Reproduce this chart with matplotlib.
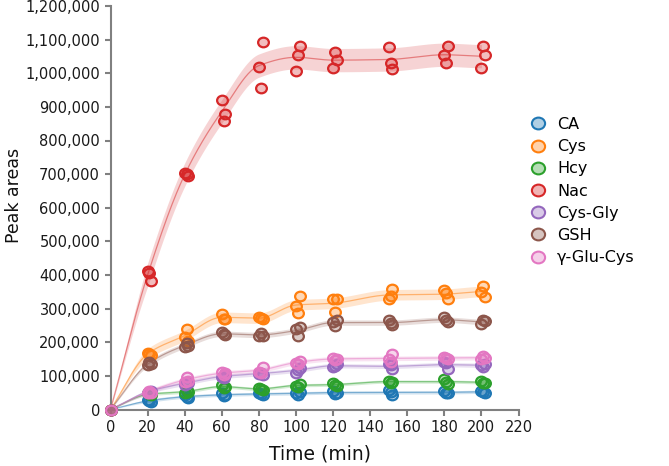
import numpy as np
import matplotlib
matplotlib.use("Agg")
import matplotlib.pyplot as plt
from matplotlib.ticker import FuncFormatter, MultipleLocator
from matplotlib.lines import Line2D
from matplotlib.colors import to_rgba
from matplotlib.path import Path

plt.rcParams['font.family'] = ['DejaVu Sans']

# ---------------- data (peak areas in thousands) ----------------
series_names = ["CA", "Cys", "Hcy", "Nac", "Cys-Gly", "GSH", "γ-Glu-Cys"]
series_colors = ["#1f77b4", "#ff7f0e", "#2ca02c", "#d62728", "#9467bd", "#8c564b", "#e377c2"]

# sampling times of each replicate (min); nominal group time listed alongside
sample_times = [0,
                20, 21, 22, 40, 41, 42, 60, 61, 62, 80, 81, 82,
                100, 101, 102, 120, 121, 122, 150, 151, 152,
                180, 181, 182, 200, 201, 202]
nominal_times = [0,
                 20, 20, 20, 40, 40, 40, 60, 60, 60, 80, 80, 80,
                 100, 100, 100, 120, 120, 120, 150, 150, 150,
                 180, 180, 180, 200, 200, 200]

ca_k = [0, 28, 25, 23, 43, 38, 33, 48, 40, 43, 50, 46, 43,
        48, 43, 53, 55, 46, 50, 58, 51, 43, 55, 50, 48, 55, 53, 50]
cys_k = [0, 168, 165, 163, 215, 239, 205, 284, 270, 268, 275, 272, 268,
         308, 287, 337, 330, 290, 328, 328, 337, 357, 356, 345, 328, 349, 368, 336]
hcy_k = [0, 48, 45, 42, 48, 58, 53, 73, 63, 68, 65, 61, 58,
         71, 68, 76, 78, 73, 71, 86, 80, 83, 90, 83, 76, 85, 80, 78]
nac_k = [0, 413, 405, 382, 703, 699, 693, 921, 858, 880, 1019, 955, 1094,
         1007, 1054, 1081, 1015, 1063, 1039, 1079, 1031, 1013, 1053, 1031, 1081, 1017, 1081, 1054]
cysgly_k = [0, 50, 53, 55, 73, 83, 78, 98, 93, 103, 106, 110, 103,
            108, 118, 123, 127, 129, 134, 135, 131, 119, 142, 137, 121, 133, 127, 135]
gsh_k = [0, 131, 140, 134, 185, 197, 189, 229, 224, 222, 220, 227, 218,
         240, 218, 246, 261, 248, 266, 266, 258, 251, 274, 266, 261, 253, 266, 263]
gglucys_k = [0, 50, 55, 50, 81, 96, 86, 113, 103, 108, 113, 110, 127,
             139, 135, 145, 154, 147, 150, 149, 142, 165, 157, 154, 149, 149, 159, 154]

series_values_k = [ca_k, cys_k, hcy_k, nac_k, cysgly_k, gsh_k, gglucys_k]

x_ticks = list(range(0, 221, 20))


def pchip(x, y, xn):
    x = np.asarray(x, float); y = np.asarray(y, float)
    h = np.diff(x); d = np.diff(y) / h
    n = len(x)
    m = np.zeros(n)
    for k in range(1, n - 1):
        if d[k - 1] * d[k] > 0:
            w1 = 2 * h[k] + h[k - 1]
            w2 = h[k] + 2 * h[k - 1]
            m[k] = (w1 + w2) / (w1 / d[k - 1] + w2 / d[k])
    m[0] = d[0]
    m[-1] = d[-1] * 0.5
    idx = np.clip(np.searchsorted(x, xn) - 1, 0, n - 2)
    t = (xn - x[idx]) / h[idx]
    h00 = 2 * t**3 - 3 * t**2 + 1
    h10 = t**3 - 2 * t**2 + t
    h01 = -2 * t**3 + 3 * t**2
    h11 = t**3 - t**2
    return h00 * y[idx] + h10 * h[idx] * m[idx] + h01 * y[idx + 1] + h11 * h[idx] * m[idx + 1]


# slightly wide ellipse marker (the reference image is horizontally stretched)
ellipse = Path(Path.unit_circle().vertices * np.array([1.12, 1.0]), Path.unit_circle().codes)

W, H = 669, 466
fig = plt.figure(figsize=(W / 100, H / 100), dpi=100)
ax = fig.add_axes([110.5 / W, 1 - 409.5 / H, (518.5 - 110.5) / W, (409.5 - 6) / H])

st = np.asarray(sample_times, float)
nt = np.asarray(nominal_times, float)
groups = np.unique(nt)
xs = np.linspace(0, 200, 400)

for name, color, vals in zip(series_names, series_colors, series_values_k):
    v = np.asarray(vals, float) * 1000
    means = np.array([v[nt == g].mean() for g in groups])
    ses = np.array([v[nt == g].std(ddof=1) / np.sqrt((nt == g).sum()) if (nt == g).sum() > 1 else 0
                    for g in groups])
    ci = 1.96 * ses[1:].mean()
    half = np.where(groups == 0, 0.0, ci)
    ys = pchip(groups, means, xs)
    hw = np.interp(xs, groups, half)
    ax.fill_between(xs, ys - hw, ys + hw, color=color, alpha=0.2, lw=0, zorder=1)
    ax.plot(xs, ys, color=color, lw=0.9, alpha=0.5, zorder=2)
    ax.scatter(st, v, s=60, marker=ellipse, facecolor=to_rgba(color, 0.3), edgecolor=color,
               linewidths=1.6, zorder=3, clip_on=False)

ax.set_xlim(0, 220)
ax.set_ylim(0, 1200000)
ax.set_xticks(x_ticks)
ax.yaxis.set_major_locator(MultipleLocator(100000))
ax.yaxis.set_major_formatter(FuncFormatter(lambda v, p: f"{v:,.0f}"))

for s in ["top", "right"]:
    ax.spines[s].set_visible(False)
for s in ["left", "bottom"]:
    ax.spines[s].set_color("#808080")
    ax.spines[s].set_linewidth(1.5)
ax.tick_params(axis="both", colors="#808080", width=1.5, length=4.5, labelsize=10.5,
               labelcolor="#1a1a1a", pad=3)

ax.set_xlabel("Time (min)", fontsize=13.5, color="#111111")
ax.xaxis.set_label_coords((320 - 110.5) / 408, -(444 - 409.5) / 403.5, transform=ax.transAxes)
ax.xaxis.label.set_va("top")
ax.set_ylabel("Peak areas", fontsize=12.5, color="#111111",
              family=["Liberation Sans Narrow", "DejaVu Sans"])
ax.yaxis.set_label_coords(-(110.5 - 23) / 408, (409.5 - 195) / 403.5, transform=ax.transAxes)

handles = [Line2D([], [], ls="none", marker=ellipse, markersize=9.5,
                  markerfacecolor=to_rgba(c, 0.35), markeredgecolor=c, markeredgewidth=1.5)
           for c in series_colors]
fig.legend(handles, series_names, loc="upper left", bbox_to_anchor=(530 / W, 1 - 117 / H),
           bbox_transform=fig.transFigure, frameon=False, fontsize=11.5,
           handlelength=1.0, handletextpad=0.7, labelspacing=0.45, borderpad=0, borderaxespad=0)

fig.savefig("out.png", dpi=100)
